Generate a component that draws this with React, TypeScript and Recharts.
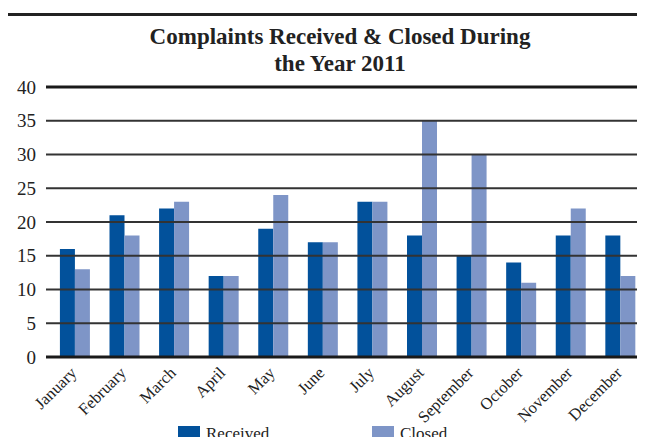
import React from 'react';
import { BarChart, Bar, XAxis, YAxis, ReferenceLine } from 'recharts';

const months = [
  'January', 'February', 'March', 'April', 'May', 'June',
  'July', 'August', 'September', 'October', 'November', 'December',
];
const received = [16, 21, 22, 12, 19, 17, 23, 18, 15, 14, 18, 18];
const closed = [13, 18, 23, 12, 24, 17, 23, 35, 30, 11, 22, 12];
const yTicks = [0, 5, 10, 15, 20, 25, 30, 35, 40];

const RECEIVED_COLOR = '#02519B';
const CLOSED_COLOR = '#7E95C7';
const FONT = '"Liberation Serif", "DejaVu Serif", serif';

const data = months.map((m, i) => ({ month: m, received: received[i], closed: closed[i] }));

function MonthTick({ x, y, payload }: any) {
  return (
    <g transform={`translate(${x},${y + 6})`}>
      <text
        textAnchor="end"
        transform="rotate(-45)"
        fontSize={16.5}
        fill="#222"
        fontFamily={FONT}
        dy={4}
      >
        {payload.value}
      </text>
    </g>
  );
}

export default function App() {
  return (
    <div style={{ position: 'relative', width: 645, height: 445, margin: -8, background: '#fff', fontFamily: FONT }}>
      <div style={{ position: 'absolute', left: 7, right: 0, top: 13, height: 3, background: '#222' }} />
      <div
        style={{
          position: 'absolute', left: 0, width: 680, top: 23, textAlign: 'center',
          fontWeight: 'bold', fontSize: 23, lineHeight: '27px', color: '#222',
        }}
      >
        Complaints Received &amp; Closed During
        <br />
        the Year 2011
      </div>
      <BarChart
        width={645}
        height={445}
        data={data}
        margin={{ top: 87, right: 0, bottom: 28, left: 0 }}
        barGap={0}
        barCategoryGap="20%"
      >
        <XAxis
          dataKey="month"
          interval={0}
          tickLine={false}
          axisLine={false}
          height={60}
          padding={{ left: 4, right: 0 }}
          tick={<MonthTick />}
        />
        <YAxis
          domain={[0, 40]}
          ticks={yTicks}
          width={46}
          tickLine={false}
          axisLine={false}
          tickMargin={4}
          tick={{ fontSize: 19, fill: '#222', fontFamily: FONT }}
        />
        <Bar dataKey="received" fill={RECEIVED_COLOR} isAnimationActive={false} />
        <Bar dataKey="closed" fill={CLOSED_COLOR} isAnimationActive={false} />
        {yTicks.map((t) => (
          <ReferenceLine
            key={t}
            y={t}
            stroke={t === 0 || t === 40 ? '#1a1a1a' : '#333'}
            strokeWidth={t === 0 || t === 40 ? 3 : 2}
          />
        ))}
      </BarChart>
      <div style={{ position: 'absolute', left: 178, top: 424, display: 'flex', alignItems: 'center', fontSize: 17, lineHeight: '19px', color: '#222' }}>
        <span style={{ display: 'inline-block', width: 22, height: 15, background: RECEIVED_COLOR, marginRight: 6 }} />
        Received
      </div>
      <div style={{ position: 'absolute', left: 372, top: 424, display: 'flex', alignItems: 'center', fontSize: 17, lineHeight: '19px', color: '#222' }}>
        <span style={{ display: 'inline-block', width: 22, height: 15, background: CLOSED_COLOR, marginRight: 6 }} />
        Closed
      </div>
    </div>
  );
}
